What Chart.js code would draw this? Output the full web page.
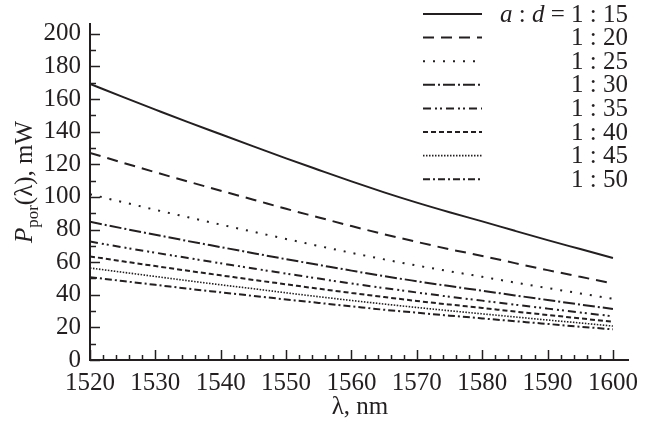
<!DOCTYPE html>
<html>
<head>
<meta charset="utf-8">
<script src="https://cdn.jsdelivr.net/npm/chart.js@4.4.1/dist/chart.umd.min.js"></script>
<style>
html,body{margin:0;padding:0;background:#fff;}
canvas{display:block;}
</style>
</head>
<body>
<canvas id="c" width="651" height="429"></canvas>
<script>
// ---- data ----
const wavelengths = [1520,1525,1530,1535,1540,1545,1550,1555,1560,1565,1570,1575,1580,1585,1590,1595,1600];
const p_1_15 = [169.3,161.3,153.5,145.8,138.4,131.0,123.6,116.5,109.5,102.8,96.5,90.6,85.0,79.2,73.5,68.0,62.5];
const p_1_20 = [127.0,121.0,115.1,109.4,103.8,98.3,92.7,87.4,82.1,77.1,72.4,67.9,63.8,59.4,55.1,51.0,46.9];
const p_1_25 = [101.6,96.8,92.1,87.5,83.0,78.6,74.2,69.9,65.7,61.7,57.9,54.4,51.0,47.5,44.1,40.8,37.5];
const p_1_30 = [84.7,80.7,76.8,72.9,69.2,65.5,61.8,58.3,54.8,51.4,48.3,45.3,42.5,39.6,36.8,34.0,31.3];
const p_1_35 = [72.6,69.1,65.8,62.5,59.3,56.1,53.0,49.9,46.9,44.1,41.4,38.8,36.4,33.9,31.5,29.1,26.8];
const p_1_40 = [63.5,60.5,57.6,54.7,51.9,49.1,46.4,43.7,41.1,38.6,36.2,34.0,31.9,29.7,27.6,25.5,23.4];
const p_1_45 = [56.4,53.8,51.2,48.6,46.1,43.7,41.2,38.8,36.5,34.3,32.2,30.2,28.3,26.4,24.5,22.7,20.8];
const p_1_50 = [50.8,48.4,46.1,43.7,41.5,39.3,37.1,35.0,32.9,30.8,29.0,27.2,25.5,23.8,22.1,20.4,18.8];
const seriesLabels = ['1 : 15','1 : 20','1 : 25','1 : 30','1 : 35','1 : 40','1 : 45','1 : 50'];
const xTickValues = [1520,1530,1540,1550,1560,1570,1580,1590,1600];
const yTickValues = [0,20,40,60,80,100,120,140,160,180,200];
const xTitle = 'λ, nm';
const yTitleMain = 'P', yTitleSub = 'por', yTitleRest = '(λ), mW';
const legendPrefix = ['a', ' : ', 'd', ' = '];

// ---- styles ----
const INK = '#231f20';
const FONT = "'Liberation Serif', 'DejaVu Serif', serif";
const allSeries = [p_1_15,p_1_20,p_1_25,p_1_30,p_1_35,p_1_40,p_1_45,p_1_50];
const dashes = [[], [11,7], [2,8], [12,3,2,3], [8,4,2,3,2,4], [5,3], [1.5,1.5], [7,3,2,3]];
const widths = [2, 2, 2, 2, 2, 2, 1.6, 2];

const datasets = allSeries.map((vals,i)=>({
  label: seriesLabels[i],
  data: wavelengths.map((x,j)=>({x:x, y:vals[j]})),
  borderColor: INK,
  borderWidth: widths[i],
  borderDash: dashes[i],
  pointRadius: 0,
  fill: false,
  cubicInterpolationMode: 'monotone'
}));

const decor = {
  id: 'decor',
  afterDraw(chart){
    const ctx = chart.ctx;
    const xs = chart.scales.x, ys = chart.scales.y;
    const L = chart.chartArea.left, B = chart.chartArea.bottom;
    ctx.save();
    ctx.strokeStyle = INK;
    ctx.lineWidth = 1.5;
    ctx.setLineDash([]);
    // y ticks (inward)
    for (let v = 0; v <= 200; v += 10){
      const y = Math.round(ys.getPixelForValue(v)) + 0.5;
      const len = (v % 20 === 0) ? 10 : 6;
      ctx.beginPath(); ctx.moveTo(L, y); ctx.lineTo(L + len, y); ctx.stroke();
    }
    // x ticks (inward)
    for (let v = 1520; v <= 1600; v += 2){
      const x = Math.round(xs.getPixelForValue(v)) + 0.5;
      const len = (v % 10 === 0) ? 10 : 5;
      ctx.beginPath(); ctx.moveTo(x, B); ctx.lineTo(x, B - len); ctx.stroke();
    }
    ctx.fillStyle = INK;
    // x title
    ctx.font = '25px ' + FONT;
    ctx.textAlign = 'center';
    ctx.textBaseline = 'alphabetic';
    ctx.fillText(xTitle, (chart.chartArea.left + chart.chartArea.right)/2 + 1, 414);
    // y title (rotated)
    ctx.save();
    ctx.translate(32, 182);
    ctx.rotate(-Math.PI/2);
    ctx.textAlign = 'left';
    const fMain = 'italic 25px ' + FONT, fSub = '17px ' + FONT, fRest = '25px ' + FONT;
    ctx.font = fMain; const w1 = ctx.measureText(yTitleMain).width;
    ctx.font = fSub; const w2 = ctx.measureText(yTitleSub).width;
    ctx.font = fRest; const w3 = ctx.measureText(yTitleRest).width;
    let x0 = -(w1 + w2 + w3)/2;
    ctx.font = fMain; ctx.fillText(yTitleMain, x0, 0); x0 += w1;
    ctx.font = fSub; ctx.fillText(yTitleSub, x0, 6); x0 += w2;
    ctx.font = fRest; ctx.fillText(yTitleRest, x0, 0);
    ctx.restore();
    // legend
    const lx0 = 423, lx1 = 482, rowTop = 14, rowStep = 23.6, textRight = 628;
    chart.data.datasets.forEach((ds,i)=>{
      const y = rowTop + i*rowStep;
      ctx.save();
      ctx.strokeStyle = ds.borderColor;
      ctx.lineWidth = ds.borderWidth;
      ctx.setLineDash(ds.borderDash || []);
      ctx.beginPath(); ctx.moveTo(lx0, y); ctx.lineTo(lx1, y); ctx.stroke();
      ctx.restore();
      ctx.font = '25px ' + FONT;
      ctx.textAlign = 'right';
      ctx.textBaseline = 'middle';
      ctx.fillText(ds.label, textRight, y + 1);
      if (i === 0){
        let xr = textRight - ctx.measureText(ds.label).width;
        for (let k = legendPrefix.length - 1; k >= 0; k--){
          const part = legendPrefix[k];
          ctx.font = (part.trim() === 'a' || part.trim() === 'd' ? 'italic ' : '') + '25px ' + FONT;
          ctx.fillText(part, xr, y + 1);
          xr -= ctx.measureText(part).width;
        }
      }
    });
    ctx.restore();
  }
};

new Chart(document.getElementById('c'), {
  type: 'line',
  data: { datasets },
  options: {
    responsive: false,
    animation: false,
    layout: { padding: { top: 9, right: 23, left: 0, bottom: 0 } },
    plugins: { legend: { display: false }, tooltip: { enabled: false }, title: { display: false } },
    scales: {
      x: {
        type: 'linear',
        min: 1520, max: 1602.3,
        afterFit(s){ s.height = 69; },
        afterBuildTicks(s){ s.ticks = xTickValues.map(v=>({value:v})); },
        grid: { display: false, drawTicks: false },
        border: { display: true, color: INK, width: 2 },
        ticks: { color: INK, font: { family: FONT, size: 25 }, padding: 8, maxRotation: 0, autoSkip: false,
                 callback: v => String(v) }
      },
      y: {
        type: 'linear',
        min: 0, max: 206,
        afterFit(s){ s.width = 90; },
        afterBuildTicks(s){ s.ticks = yTickValues.map(v=>({value:v})); },
        grid: { display: false, drawTicks: false },
        border: { display: true, color: INK, width: 2 },
        ticks: { color: INK, font: { family: FONT, size: 25 }, padding: 9, autoSkip: false,
                 callback: v => String(v) }
      }
    }
  },
  plugins: [decor]
});
</script>
</body>
</html>
